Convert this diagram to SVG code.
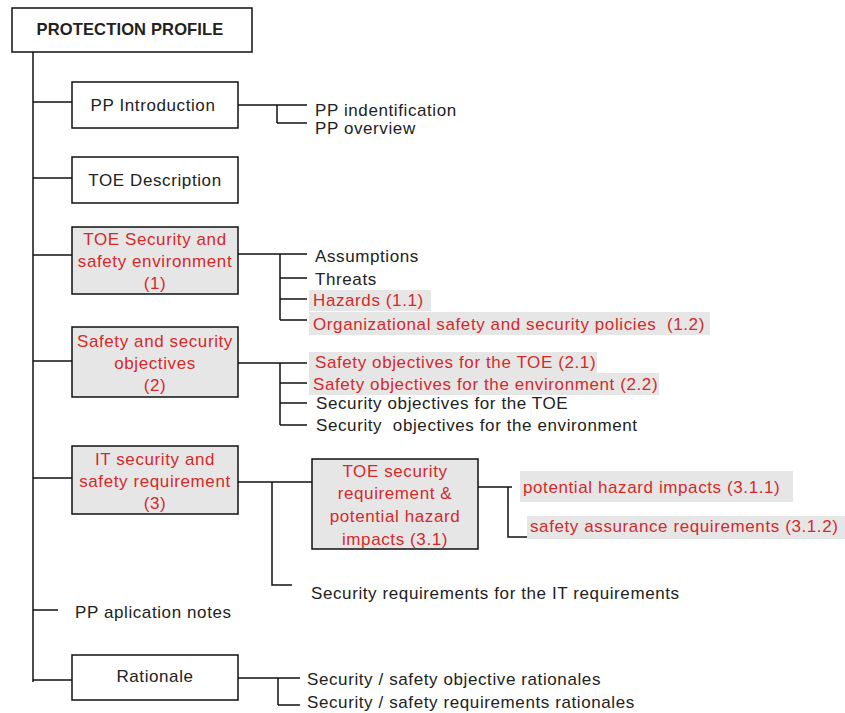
<svg xmlns="http://www.w3.org/2000/svg" width="845" height="713" viewBox="0 0 845 713">
<style>
text{font-family:"Liberation Sans",Arial,sans-serif;font-size:17px;fill:#222;letter-spacing:0.6px;white-space:pre}
.c{text-anchor:middle}
.r{fill:#d42a2a}
.box{fill:#fff;stroke:#111;stroke-width:1.5}
.gbox{fill:#e6e6e6;stroke:#111;stroke-width:1.5}
.hl{fill:#e6e6e6}
#connectors path{fill:none;stroke:#111;stroke-width:1.5}
</style>
<rect width="845" height="713" fill="#fff"/>
<g id="connectors">
<path d="M33 52V682"/>
<path d="M33 102H72M238 105H277M277 105V123M277 105H307M277 123H307"/>
<path d="M33 178H72"/>
<path d="M33 255H72M238 254H280M280 254V320M280 254H307M280 278H307M280 299H307M280 320H307"/>
<path d="M33 361H72M238 363H280M280 363V425M280 363H307M280 383H307M280 403H307M280 425H307"/>
<path d="M33 478H72M238 482H312M272 482V585H292"/>
<path d="M478 487H512M508 487V537H527"/>
<path d="M33 610H58"/>
<path d="M33 680H72M238 678H278M278 678V705M278 678H300M278 705H300"/>
</g>
<g id="root"><rect class="box" x="12" y="8" width="240" height="44"/><text class="c" x="130" y="35" style="font-weight:bold;font-size:16.5px;letter-spacing:0.15px">PROTECTION PROFILE</text></g>
<g id="pp-intro"><rect class="box" x="72" y="82" width="166" height="46"/><text class="c" x="153" y="111">PP Introduction</text></g>
<g id="pp-ident"><text x="315" y="116">PP indentification</text></g>
<g id="pp-overview"><text x="315" y="134">PP overview</text></g>
<g id="toe-desc"><rect class="box" x="72" y="157" width="166" height="46"/><text class="c" x="155" y="186">TOE Description</text></g>
<g id="toe-env"><rect class="gbox" x="72" y="227" width="166" height="67"/><text class="c r" x="155" y="245">TOE Security and</text><text class="c r" x="155" y="267">safety environment</text><text class="c r" x="155" y="289">(1)</text></g>
<g id="assumptions"><text x="315" y="262">Assumptions</text></g>
<g id="threats"><text x="315" y="285">Threats</text></g>
<g id="hazards"><rect class="hl" x="309" y="290" width="122" height="21"/><text class="r" x="313" y="306">Hazards (1.1)</text></g>
<g id="org-policies"><rect class="hl" x="309" y="312" width="401" height="23"/><text class="r" x="313" y="330">Organizational safety and security policies  (1.2)</text></g>
<g id="objectives"><rect class="gbox" x="72" y="327" width="166" height="70"/><text class="c r" x="155" y="347">Safety and security</text><text class="c r" x="155" y="369">objectives</text><text class="c r" x="155" y="391">(2)</text></g>
<g id="safety-toe"><rect class="hl" x="309" y="352" width="288" height="21"/><text class="r" x="315" y="368">Safety objectives for the TOE (2.1)</text></g>
<g id="safety-env"><rect class="hl" x="309" y="373" width="350" height="22"/><text class="r" x="313" y="390">Safety objectives for the environment (2.2)</text></g>
<g id="security-toe"><text x="316" y="409">Security objectives for the TOE</text></g>
<g id="security-env"><text x="316" y="431">Security  objectives for the environment</text></g>
<g id="it-req"><rect class="gbox" x="72" y="446" width="166" height="68"/><text class="c r" x="155" y="465">IT security and</text><text class="c r" x="155" y="487">safety requirement</text><text class="c r" x="155" y="509">(3)</text></g>
<g id="toe-sec-req"><rect class="gbox" x="312" y="459" width="166" height="90"/><text class="c r" x="395" y="477">TOE security</text><text class="c r" x="395" y="499">requirement &amp;</text><text class="c r" x="395" y="522">potential hazard</text><text class="c r" x="395" y="545">impacts (3.1)</text></g>
<g id="hazard-impacts"><rect class="hl" x="520" y="471" width="273" height="31"/><text class="r" x="523" y="493">potential hazard impacts (3.1.1)</text></g>
<g id="safety-assurance"><rect class="hl" x="527" y="516" width="318" height="23"/><text class="r" x="530" y="532">safety assurance requirements (3.1.2)</text></g>
<g id="it-sec-req"><text x="311" y="599">Security requirements for the IT requirements</text></g>
<g id="app-notes"><text x="75" y="618">PP aplication notes</text></g>
<g id="rationale"><rect class="box" x="72" y="655" width="166" height="45"/><text class="c" x="155" y="682">Rationale</text></g>
<g id="obj-rationales"><text x="307" y="685">Security / safety objective rationales</text></g>
<g id="req-rationales"><text x="307" y="708">Security / safety requirements rationales</text></g>
</svg>
